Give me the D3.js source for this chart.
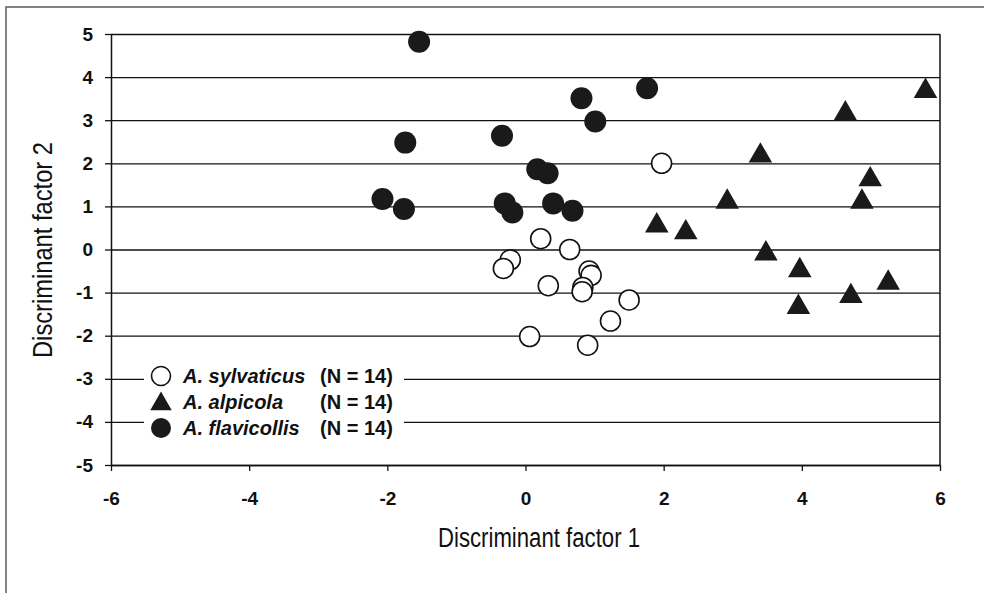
<!DOCTYPE html>
<html>
<head>
<meta charset="utf-8">
<script src="https://cdn.jsdelivr.net/npm/d3@7"></script>
<style>
  html, body { margin: 0; padding: 0; background: #fff; }
  svg { display: block; }
</style>
</head>
<body>
<div id="chart"></div>
<script>
const WIDTH = 984;
const HEIGHT = 593;
const TICK_FONT = "'Liberation Sans', Arial, sans-serif";
const TITLE_FONT = "'Liberation Sans Narrow', 'Liberation Sans', Arial, sans-serif";

// --------------- data ---------------
const xTicks = [-6, -4, -2, 0, 2, 4, 6];
const yTicks = [-5, -4, -3, -2, -1, 0, 1, 2, 3, 4, 5];

const speciesNames = ["A. sylvaticus", "A. alpicola", "A. flavicollis"];
const speciesN = ["(N = 14)", "(N = 14)", "(N = 14)"];

// A. sylvaticus (open circles)
const sylvaticusX = [0.22, 0.64, -0.22, -0.32, 0.92, 0.95, 0.33, 0.83, 0.82, 1.50, 1.23, 0.06, 0.90, 1.97];
const sylvaticusY = [0.25, 0.00, -0.24, -0.44, -0.50, -0.60, -0.84, -0.88, -0.98, -1.17, -1.66, -2.02, -2.22, 2.00];

// A. alpicola (triangles)
const alpicolaX = [5.79, 4.63, 3.40, 4.99, 4.87, 2.92, 2.32, 1.90, 3.48, 3.97, 5.25, 4.71, 3.95];
const alpicolaY = [3.72, 3.20, 2.22, 1.67, 1.15, 1.15, 0.44, 0.60, -0.05, -0.44, -0.73, -1.04, -1.29];

// A. flavicollis (filled circles)
const flavicollisX = [-1.54, 1.76, 0.81, 1.01, -1.74, -0.34, 0.17, 0.32, -2.07, -1.76, -0.30, -0.19, 0.40, 0.68];
const flavicollisY = [4.82, 3.74, 3.51, 2.97, 2.48, 2.64, 1.86, 1.77, 1.17, 0.94, 1.07, 0.86, 1.07, 0.90];

// --------------- layout ---------------
const margin = { top: 34, right: 44, bottom: 128, left: 111 };
const width = WIDTH - margin.left - margin.right;
const height = HEIGHT - margin.top - margin.bottom;

const svg = d3.select("#chart").append("svg")
  .attr("width", WIDTH)
  .attr("height", HEIGHT);

// outer frame (only top/left are visible)
svg.append("rect")
  .attr("x", 6).attr("y", 7)
  .attr("width", WIDTH + 10).attr("height", HEIGHT + 10)
  .attr("fill", "none")
  .attr("stroke", "#5a5a5a")
  .attr("stroke-width", 1.5);

const g = svg.append("g")
  .attr("transform", `translate(${margin.left},${margin.top})`);

const x = d3.scaleLinear().domain([-6, 6]).range([0, width]);
const y = d3.scaleLinear().domain([-5, 5]).range([height, 0]);

// gridlines
g.append("g")
  .attr("class", "grid")
  .call(d3.axisLeft(y).tickValues(yTicks).tickSize(-width).tickFormat(""))
  .call(s => s.select(".domain").remove())
  .selectAll("line")
  .attr("stroke", "#111")
  .attr("stroke-width", 1.3);

// right border
g.append("line")
  .attr("x1", width).attr("x2", width)
  .attr("y1", 0).attr("y2", height)
  .attr("stroke", "#111").attr("stroke-width", 1.5);

// axes (ascii hyphen for negatives, as in the print)
const fmt = d => String(d);

const yAxis = g.append("g")
  .call(d3.axisLeft(y).tickValues(yTicks).tickSize(6).tickPadding(12).tickSizeOuter(0).tickFormat(fmt));
yAxis.select(".domain").attr("stroke", "#111").attr("stroke-width", 1.5);
yAxis.selectAll(".tick line").attr("stroke", "#111").attr("stroke-width", 1.3);

const xAxis = g.append("g")
  .attr("transform", `translate(0,${height})`)
  .call(d3.axisBottom(x).tickValues(xTicks).tickSize(6).tickPadding(21).tickSizeOuter(0).tickFormat(fmt));
xAxis.select(".domain").attr("stroke", "#111").attr("stroke-width", 1.5);
xAxis.selectAll(".tick line").attr("stroke", "#111").attr("stroke-width", 1.3);

g.selectAll(".tick text")
  .attr("font-family", TICK_FONT)
  .attr("font-weight", "bold")
  .attr("font-size", 19)
  .attr("fill", "#111");

// axis titles
svg.append("text")
  .attr("x", 539)
  .attr("y", 547)
  .attr("text-anchor", "middle")
  .attr("font-family", TITLE_FONT)
  .attr("font-size", 27)
  .attr("fill", "#111")
  .attr("textLength", 202)
  .attr("lengthAdjust", "spacingAndGlyphs")
  .text("Discriminant factor 1");

svg.append("text")
  .attr("transform", `translate(52,250) rotate(-90)`)
  .attr("text-anchor", "middle")
  .attr("font-family", TITLE_FONT)
  .attr("font-size", 27)
  .attr("fill", "#111")
  .attr("textLength", 216)
  .attr("lengthAdjust", "spacingAndGlyphs")
  .text("Discriminant factor 2");

// --------------- points ---------------
const zip = (xs, ys) => xs.map((v, i) => ({ x: v, y: ys[i] }));
const circleSym = d3.symbol(d3.symbolCircle, Math.PI * 11 * 11);
const openSym = d3.symbol(d3.symbolCircle, Math.PI * 10 * 10);
const triSym = d3.symbol(d3.symbolTriangle, 240);

g.append("g").selectAll("path")
  .data(zip(flavicollisX, flavicollisY))
  .enter().append("path")
  .attr("d", circleSym)
  .attr("transform", d => `translate(${x(d.x)},${y(d.y)})`)
  .attr("fill", "#1a1a1a");

g.append("g").selectAll("path")
  .data(zip(alpicolaX, alpicolaY))
  .enter().append("path")
  .attr("d", triSym)
  .attr("transform", d => `translate(${x(d.x)},${y(d.y) + 2})`)
  .attr("fill", "#1a1a1a");

g.append("g").selectAll("path")
  .data(zip(sylvaticusX, sylvaticusY))
  .enter().append("path")
  .attr("d", openSym)
  .attr("transform", d => `translate(${x(d.x)},${y(d.y)})`)
  .attr("fill", "#fff")
  .attr("stroke", "#111")
  .attr("stroke-width", 1.6);

// --------------- legend ---------------
const legend = svg.append("g");
legend.append("rect")
  .attr("x", 144).attr("y", 364)
  .attr("width", 260).attr("height", 76)
  .attr("fill", "#fff");

const legendSyms = [
  d3.symbol(d3.symbolCircle, Math.PI * 9.5 * 9.5)(),
  d3.symbol(d3.symbolTriangle, 200)(),
  d3.symbol(d3.symbolCircle, Math.PI * 10 * 10)()
];
const rowY = [376, 402, 428];

const rows = legend.selectAll("g.row")
  .data(speciesNames)
  .enter().append("g")
  .attr("class", "row")
  .attr("transform", (d, i) => `translate(0,${rowY[i]})`);

rows.append("path")
  .attr("d", (d, i) => legendSyms[i])
  .attr("transform", (d, i) => `translate(161,${i === 1 ? 2 : 0})`)
  .attr("fill", (d, i) => i === 0 ? "#fff" : "#1a1a1a")
  .attr("stroke", (d, i) => i === 0 ? "#111" : "none")
  .attr("stroke-width", 1.6);

rows.append("text")
  .attr("x", 183).attr("y", 7)
  .attr("font-family", TICK_FONT)
  .attr("font-weight", "bold")
  .attr("font-style", "italic")
  .attr("font-size", 20)
  .attr("fill", "#111")
  .text(d => d);

rows.append("text")
  .attr("x", 320).attr("y", 7)
  .attr("font-family", TICK_FONT)
  .attr("font-weight", "bold")
  .attr("font-size", 20)
  .attr("fill", "#111")
  .text((d, i) => speciesN[i]);
</script>
</body>
</html>
